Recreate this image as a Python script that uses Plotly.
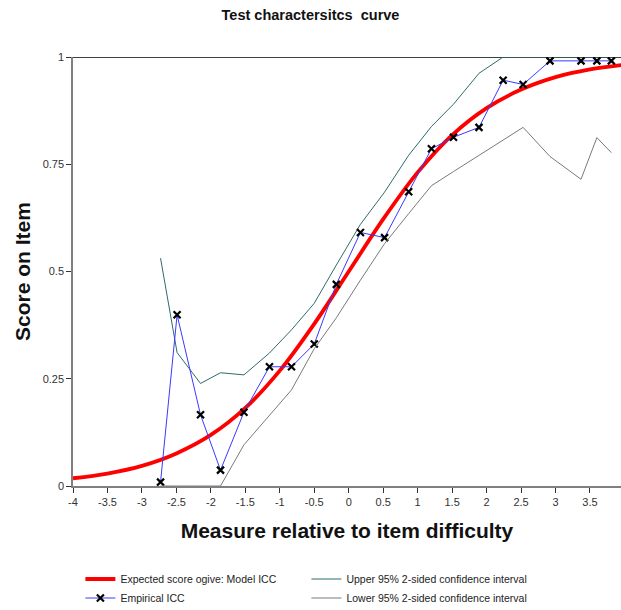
import plotly.graph_objects as go

# Model ICC (expected score ogive), read at 0.5 steps
model_x = [-4, -3.5, -3, -2.5, -2, -1.5, -1, -0.5, 0, 0.5, 1, 1.5, 2, 2.5, 3, 3.5, 4]
model_y = [0.018, 0.029, 0.047, 0.076, 0.119, 0.182, 0.269, 0.378, 0.5, 0.622,
           0.731, 0.818, 0.881, 0.924, 0.953, 0.971, 0.982]

# Empirical ICC
emp_x = [-2.73, -2.49, -2.15, -1.86, -1.52, -1.15, -0.83, -0.50, -0.18, 0.17, 0.52,
         0.87, 1.20, 1.52, 1.89, 2.24, 2.53, 2.92, 3.37, 3.60, 3.81]
emp_y = [0.009, 0.399, 0.166, 0.037, 0.172, 0.278, 0.278, 0.331, 0.470, 0.591, 0.579,
         0.686, 0.786, 0.813, 0.836, 0.946, 0.936, 0.991, 0.991, 0.991, 0.991]

# Confidence intervals
upper_y = [0.531, 0.311, 0.239, 0.264, 0.259, 0.310, 0.364, 0.426, 0.515, 0.610, 0.685,
           0.771, 0.838, 0.890, 0.962, 1.0, 1.0, 1.0, 1.0, 1.0, 1.0]
lower_y = [0.0, 0.0, 0.0, 0.0, 0.096, 0.165, 0.224, 0.320, 0.392, 0.480, 0.565,
           0.635, 0.700, 0.733, 0.770, 0.806, 0.836, 0.768, 0.715, 0.812, 0.777]

x_ticks = [-4, -3.5, -3, -2.5, -2, -1.5, -1, -0.5, 0, 0.5, 1, 1.5, 2, 2.5, 3, 3.5]
x_tick_labels = ["-4", "-3.5", "-3", "-2.5", "-2", "-1.5", "-1", "-0.5", "0", "0.5",
                 "1", "1.5", "2", "2.5", "3", "3.5"]
y_ticks = [0, 0.25, 0.5, 0.75, 1]
y_tick_labels = ["0", "0.25", "0.5", "0.75", "1"]

FONT = "Liberation Sans, Arial, sans-serif"

fig = go.Figure()
fig.add_trace(go.Scatter(x=model_x, y=model_y, mode="lines", line_shape="spline",
                         line=dict(color="#ff0000", width=3.8),
                         name="Expected score ogive: Model ICC"))
fig.add_trace(go.Scatter(x=emp_x, y=upper_y, mode="lines",
                         line=dict(color="#2f6b6b", width=1),
                         name="Upper 95% 2-sided confidence interval"))
fig.add_trace(go.Scatter(x=emp_x, y=emp_y, mode="lines+markers",
                         line=dict(color="#3a3aff", width=1),
                         marker=dict(symbol="x-thin-open", size=7, color="black",
                                     line=dict(color="black", width=2.2)),
                         name="Empirical ICC"))
fig.add_trace(go.Scatter(x=emp_x, y=lower_y, mode="lines",
                         line=dict(color="#7a7a7a", width=1),
                         name="Lower 95% 2-sided confidence interval"))

fig.add_shape(type="line", xref="paper", yref="y", x0=0, x1=1, y0=1, y1=1,
              line=dict(color="black", width=1.5), layer="below")

fig.update_layout(
    width=621, height=610,
    margin=dict(l=73, r=0, t=57, b=124, autoexpand=False),
    paper_bgcolor="white", plot_bgcolor="white",
    font=dict(family=FONT, color="#222"),
    title=dict(text="<b>Test charactersitcs  curve</b>", x=0.5, xanchor="center",
               y=0.975, yanchor="middle", font=dict(size=14.5, color="#111")),
    showlegend=True,
    legend=dict(orientation="h", x=0.0135, xanchor="left", y=-0.183, yanchor="top",
                entrywidth=181, font=dict(size=10.5, color="#222"),
                tracegroupgap=0, itemwidth=30),
    xaxis=dict(range=[-4, 3.95], tickvals=x_ticks, ticktext=x_tick_labels,
               showgrid=False, zeroline=False, showline=True, linecolor="#808080",
               linewidth=1.5, ticks="outside", ticklen=5, tickcolor="#333",
               tickfont=dict(size=11, color="#333"), automargin=False,
               title=dict(text="<b>Measure relative to item difficulty</b>",
                          font=dict(size=21, color="#111"), standoff=16)),
    yaxis=dict(range=[0, 1], tickvals=y_ticks, ticktext=y_tick_labels,
               showgrid=False, zeroline=False, showline=True, linecolor="#808080",
               linewidth=1.5, ticks="outside", ticklen=5, tickcolor="#333",
               tickfont=dict(size=11, color="#333"), automargin=False,
               title=dict(text="<b>Score on Item</b>",
                          font=dict(size=21, color="#111"), standoff=6)),
)

fig.write_html("out.html", config={"displayModeBar": False},
               post_script="document.body.style.margin='0';document.body.style.overflow='hidden';")
